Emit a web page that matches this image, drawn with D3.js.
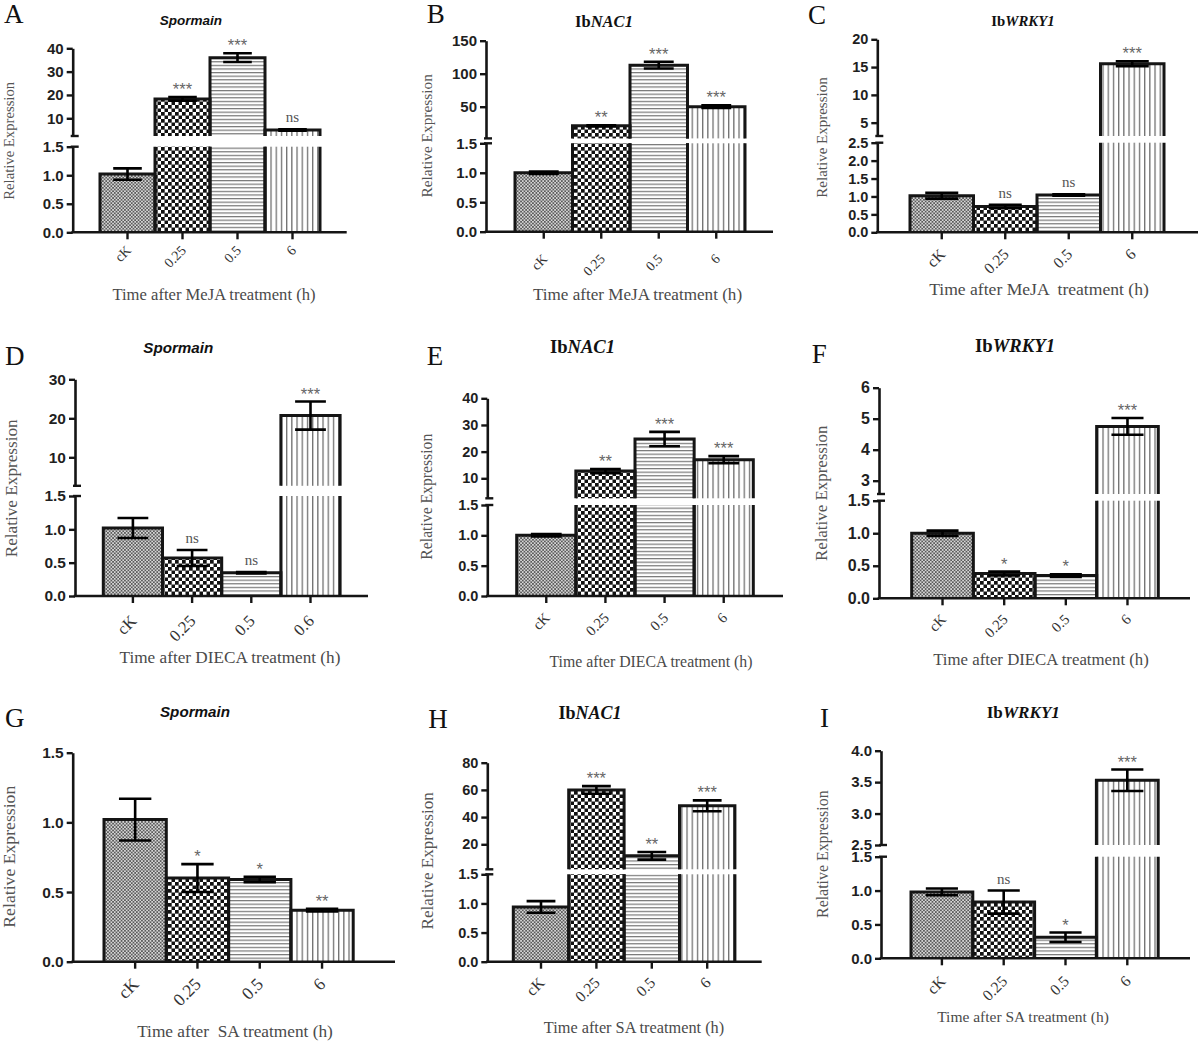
<!DOCTYPE html>
<html><head><meta charset="utf-8">
<script src="https://cdn.jsdelivr.net/npm/d3@7"></script>
<style>body{margin:0;background:#fff}svg{display:block}</style>
</head><body>
<script>
// ---------------- DATA ----------------
const categories = ["cK", "0.25", "0.5", "6"];
const categoriesD = ["cK", "0.25", "0.5", "0.6"];
const panelLetters = ["A","B","C","D","E","F","G","H","I"];
const genes = ["Spormain", "IbNAC1", "IbWRKY1"];
const xTitles = [
  "Time after MeJA treatment (h)", "Time after MeJA treatment (h)", "Time after MeJA  treatment (h)",
  "Time after DIECA treatment (h)", "Time after DIECA treatment (h)", "Time after DIECA treatment (h)",
  "Time after  SA treatment (h)", "Time after SA treatment (h)", "Time after SA treatment (h)"
];
const yTitle = "Relative Expression";

// A  Spormain / MeJA
const valuesA = [1.02, 18.3, 36.0, 5.0];
const errorsA = [0.10, 0.8, 1.9, 0.3];
const sigA = ["", "***", "***", "ns"];
const lowTicksA = [0, 0.5, 1.0, 1.5];
const highTicksA = [10, 20, 30, 40];
const breakA = 2.4;
// B  IbNAC1 / MeJA
const valuesB = [1.0, 21, 113, 50];
const errorsB = [0.02, 1, 5, 2];
const sigB = ["", "**", "***", "***"];
const lowTicksB = [0, 0.5, 1.0, 1.5];
const highTicksB = [50, 100, 150];
const breakB = 2;
// C  IbWRKY1 / MeJA
const valuesC = [1.02, 0.72, 1.04, 15.6];
const errorsC = [0.08, 0.05, 0.02, 0.45];
const sigC = ["", "ns", "ns", "***"];
const lowTicksC = [0, 0.5, 1.0, 1.5, 2.0, 2.5];
const highTicksC = [5, 10, 15, 20];
const breakC = 2.6;
// D  Spormain / DIECA
const valuesD = [1.02, 0.57, 0.35, 20.7];
const errorsD = [0.15, 0.12, 0.01, 3.6];
const sigD = ["", "ns", "ns", "***"];
const lowTicksD = [0, 0.5, 1.0, 1.5];
const highTicksD = [10, 20, 30];
const breakD = 2.7;
// E  IbNAC1 / DIECA
const valuesE = [1.0, 12.7, 24.7, 17.0];
const errorsE = [0.02, 0.8, 2.7, 1.3];
const sigE = ["", "**", "***", "***"];
const lowTicksE = [0, 0.5, 1.0, 1.5];
const highTicksE = [10, 20, 30, 40];
const breakE = 2.5;
// F  IbWRKY1 / DIECA
const valuesF = [1.0, 0.38, 0.35, 4.75];
const errorsF = [0.04, 0.03, 0.02, 0.27];
const sigF = ["", "*", "*", "***"];
const lowTicksF = [0, 0.5, 1.0, 1.5];
const highTicksF = [3, 4, 5, 6];
const breakF = 2.57;
// G  Spormain / SA (no break)
const valuesG = [1.02, 0.60, 0.59, 0.37];
const errorsG = [0.15, 0.10, 0.02, 0.01];
const sigG = ["", "*", "*", "**"];
const lowTicksG = [0, 0.5, 1.0, 1.5];
// H  IbNAC1 / SA
const valuesH = [0.94, 60, 11.5, 48.3];
const errorsH = [0.10, 2.8, 2.8, 4];
const sigH = ["", "***", "**", "***"];
const lowTicksH = [0, 0.5, 1.0, 1.5];
const highTicksH = [20, 40, 60, 80];
const breakH = 1.6;
// I  IbWRKY1 / SA
const valuesI = [0.98, 0.83, 0.31, 3.53];
const errorsI = [0.05, 0.17, 0.07, 0.17];
const sigI = ["", "ns", "*", "***"];
const lowTicksI = [0, 0.5, 1.0, 1.5];
const highTicksI = [2.5, 3.0, 3.5, 4.0];
const breakI = 2.5;

// ---------------- LAYOUT (positions / sizes) ----------------
const layouts = [
 {ax:72.7, xEnd:346.7, b0:100, bw:55, y0:232.3, lowTop:146.7, hiBot:136, hiTop:48.3, letter:[4,23.3], title:[191,25,13.5], xt:[214,300,16.6], yt:[9.5,140.8,14.7], xlDy:19, xlSize:14, tk:15, hiFmt:"d"},
 {ax:486, xEnd:773, b0:515, bw:57.5, y0:231.7, lowTop:143.3, hiBot:138.4, hiTop:40.7, letter:[426.7,23.3], title:[604,26.7,16.5], xt:[637.5,300,17.1], yt:[427.5,135.8,15.4], xlDy:28, xlSize:13.7, tk:15, hiFmt:"d"},
 {ax:877.3, xEnd:1198, b0:910, bw:63.5, y0:232.3, lowTop:142.7, hiBot:136, hiTop:39.3, letter:[808,24], title:[1023,26,14.8], xt:[1039,295,17.6], yt:[822.5,137.5,15], xlDy:23, xlSize:15.7, tk:14.5, hiFmt:"d"},
 {ax:75, xEnd:368, b0:103.3, bw:59.2, y0:596, lowTop:496, hiBot:485.8, hiTop:379.3, letter:[5,365], title:[178.3,352.7,15.2], xt:[230,663.3,17.2], yt:[11.5,488.3,17.2], xlDy:26, xlSize:16.6, tk:15.5, hiFmt:"d"},
 {ax:487.3, xEnd:783, b0:516.7, bw:59.15, y0:596, lowTop:505, hiBot:498.3, hiTop:398.3, letter:[426.7,365], title:[582.5,353.3,18.6], xt:[651,666.7,15.8], yt:[427.5,496.7,15.7], xlDy:22.7, xlSize:14.7, tk:14.5, hiFmt:"d"},
 {ax:879, xEnd:1190, b0:911.7, bw:61.65, y0:598.3, lowTop:500.7, hiBot:494, hiTop:387.7, letter:[811.7,363.3], title:[1015,352.3,18.7], xt:[1041,665,16.8], yt:[821.5,493.3,16.9], xlDy:22, xlSize:14.7, tk:16, hiFmt:"d"},
 {ax:72.7, xEnd:395, b0:104, bw:62.3, y0:961.7, lowTop:752.7, letter:[5,726.7], title:[195,716.7,15.2], xt:[235,1036.7,17.3], yt:[10,856.7,17.7], xlDy:23.6, xlSize:17.6, tk:15.5},
 {ax:487.3, xEnd:761.7, b0:513.3, bw:55.4, y0:961.7, lowTop:874.3, hiBot:869.3, hiTop:762.7, letter:[428.3,728.3], title:[590,719.3,18], xt:[634,1033.3,16.3], yt:[428.3,860.8,17.1], xlDy:22, xlSize:15.7, tk:14.5, hiFmt:"d"},
 {ax:881, xEnd:1190, b0:911, bw:61.8, y0:958.3, lowTop:856.7, hiBot:845, hiTop:750.7, letter:[820,727.3], title:[1023.3,717.7,17.1], xt:[1023,1021.7,15.5], yt:[823.3,854.2,15.9], xlDy:24, xlSize:15.7, tk:15, hiFmt:".1f"}
];

const panels = [
 {cats:categories,  vals:valuesA, errs:errorsA, sig:sigA, low:lowTicksA, high:highTicksA, brk:breakA, gene:genes[0]},
 {cats:categories,  vals:valuesB, errs:errorsB, sig:sigB, low:lowTicksB, high:highTicksB, brk:breakB, gene:genes[1]},
 {cats:categories,  vals:valuesC, errs:errorsC, sig:sigC, low:lowTicksC, high:highTicksC, brk:breakC, gene:genes[2]},
 {cats:categoriesD, vals:valuesD, errs:errorsD, sig:sigD, low:lowTicksD, high:highTicksD, brk:breakD, gene:genes[0]},
 {cats:categories,  vals:valuesE, errs:errorsE, sig:sigE, low:lowTicksE, high:highTicksE, brk:breakE, gene:genes[1]},
 {cats:categories,  vals:valuesF, errs:errorsF, sig:sigF, low:lowTicksF, high:highTicksF, brk:breakF, gene:genes[2]},
 {cats:categories,  vals:valuesG, errs:errorsG, sig:sigG, low:lowTicksG, high:null, brk:null, gene:genes[0]},
 {cats:categories,  vals:valuesH, errs:errorsH, sig:sigH, low:lowTicksH, high:highTicksH, brk:breakH, gene:genes[1]},
 {cats:categories,  vals:valuesI, errs:errorsI, sig:sigI, low:lowTicksI, high:highTicksI, brk:breakI, gene:genes[2]}
];

// ---------------- DRAW ----------------
const W = 1200, H = 1045;
const svg = d3.select("body").append("svg").attr("width", W).attr("height", H);
svg.append("rect").attr("width", W).attr("height", H).attr("fill", "#fff");

const SERIF = "'Liberation Serif','Times New Roman',serif";
const SANS = "'Liberation Sans',Arial,sans-serif";
const INK = "#151515";

const defs = svg.append("defs");
function pat(id, w, h, bg, shapes) {
  const p = defs.append("pattern").attr("id", id).attr("patternUnits", "userSpaceOnUse")
    .attr("width", w).attr("height", h);
  p.append("rect").attr("width", w).attr("height", h).attr("fill", bg);
  shapes.forEach(s => p.append("rect").attr("x", s[0]).attr("y", s[1]).attr("width", s[2]).attr("height", s[3]).attr("fill", s[4]));
}
pat("pCK", 3.4, 3.4, "#d6d6d6", [[0,0,1.7,1.7,"#5a5a5a"],[1.7,1.7,1.7,1.7,"#5a5a5a"]]);
pat("p025", 7, 7, "#fff", [[0,0,3.7,3.7,"#111"],[3.5,3.5,3.7,3.7,"#111"]]);
pat("p05", 3.6, 3.6, "#fff", [[0,0,3.6,1.2,"#777"]]);
pat("p6", 5.2, 5.2, "#fff", [[0,0,1.3,5.2,"#6f6f6f"]]);
const patternIds = ["pCK", "p025", "p05", "p6"];

function styleAxis(sel, size) {
  sel.select(".domain").attr("stroke", INK).attr("stroke-width", 2.6);
  sel.selectAll(".tick line").attr("stroke", INK).attr("stroke-width", 2.4);
  sel.selectAll(".tick text").attr("font-family", SANS).attr("font-weight", "bold")
    .attr("font-size", size).attr("fill", "#1f1f1f");
}

panels.forEach((p, k) => {
  const L = layouts[k];
  const g = svg.append("g");
  const x = d3.scaleBand().domain(p.cats).range([L.b0, L.b0 + p.cats.length * L.bw]).padding(0);
  const bw = x.bandwidth();
  const lowMax = p.low[p.low.length - 1];
  const yLow = d3.scaleLinear().domain([0, lowMax]).range([L.y0, L.lowTop]);
  const yHigh = p.high ? d3.scaleLinear().domain([p.brk, p.high[p.high.length - 1]]).range([L.hiBot, L.hiTop]) : null;
  const inHigh = v => yHigh && v > lowMax;
  const ys = v => inHigh(v) ? yHigh(v) : yLow(v);

  const data = p.cats.map((c, i) => ({c, i, v: p.vals[i], e: p.errs[i], s: p.sig[i]}));

  // bars - lower segment
  g.selectAll(".barLow").data(data).join("rect")
    .attr("x", d => x(d.c)).attr("width", bw)
    .attr("y", d => inHigh(d.v) ? L.lowTop : yLow(d.v))
    .attr("height", d => L.y0 - (inHigh(d.v) ? L.lowTop : yLow(d.v)))
    .attr("fill", d => `url(#${patternIds[d.i]})`);
  g.selectAll(".outLow").data(data).join("path")
    .attr("d", d => {
      const x0 = x(d.c), x1 = x0 + bw;
      if (inHigh(d.v)) return `M${x0},${L.y0}V${L.lowTop}M${x1},${L.lowTop}V${L.y0}`;
      return `M${x0},${L.y0}V${yLow(d.v)}H${x1}V${L.y0}`;
    })
    .attr("fill", "none").attr("stroke", INK).attr("stroke-width", 3);
  // bars - upper segment
  const hiData = data.filter(d => inHigh(d.v));
  g.selectAll(".barHigh").data(hiData).join("rect")
    .attr("x", d => x(d.c)).attr("width", bw)
    .attr("y", d => yHigh(d.v)).attr("height", d => L.hiBot - yHigh(d.v))
    .attr("fill", d => `url(#${patternIds[d.i]})`);
  g.selectAll(".outHigh").data(hiData).join("path")
    .attr("d", d => {
      const x0 = x(d.c), x1 = x0 + bw;
      return `M${x0},${L.hiBot}V${yHigh(d.v)}H${x1}V${L.hiBot}`;
    })
    .attr("fill", "none").attr("stroke", INK).attr("stroke-width", 3);

  // error bars
  const cap = bw * 0.26;
  g.selectAll(".err").data(data).join("path")
    .attr("d", d => {
      const cx = x(d.c) + bw / 2;
      const yt = ys(d.v + d.e), yb = ys(d.v - d.e);
      return `M${cx},${yt}V${yb}M${cx - cap},${yt}H${cx + cap}M${cx - cap},${yb}H${cx + cap}`;
    })
    .attr("fill", "none").attr("stroke", "#000").attr("stroke-width", 2.6);

  // significance labels
  g.selectAll(".sig").data(data.filter(d => d.s)).join("text")
    .attr("x", d => x(d.c) + bw / 2)
    .attr("y", d => ys(d.v + d.e) - (d.s === "ns" ? 7 : 2))
    .attr("text-anchor", "middle")
    .attr("font-family", d => d.s === "ns" ? SERIF : SANS)
    .attr("font-size", d => d.s === "ns" ? 15 : 16.5)
    .attr("fill", d => d.s === "ns" ? "#555" : "#666")
    .text(d => d.s);

  // y axes
  const aLow = g.append("g").attr("transform", `translate(${L.ax},0)`)
    .call(d3.axisLeft(yLow).tickValues(p.low).tickFormat(d3.format(".1f")).tickSize(6).tickSizeOuter(0).tickPadding(3));
  styleAxis(aLow, L.tk);
  if (yHigh) {
    const aHigh = g.append("g").attr("transform", `translate(${L.ax},0)`)
      .call(d3.axisLeft(yHigh).tickValues(p.high).tickFormat(d3.format(L.hiFmt)).tickSize(6).tickSizeOuter(0).tickPadding(3));
    styleAxis(aHigh, L.tk);
    // break marks
    [L.lowTop, L.hiBot].forEach(yy => g.append("line")
      .attr("x1", L.ax - 2).attr("x2", L.ax + 6).attr("y1", yy).attr("y2", yy)
      .attr("stroke", INK).attr("stroke-width", 2.4));
  }

  // x axis
  const aX = g.append("g").attr("transform", `translate(0,${L.y0})`)
    .call(d3.axisBottom(x).tickSize(7).tickFormat(""));
  aX.select(".domain").remove();
  aX.selectAll(".tick line").attr("stroke", INK).attr("stroke-width", 2.4);
  g.append("line").attr("x1", L.ax - 1.3).attr("x2", L.xEnd).attr("y1", L.y0).attr("y2", L.y0)
    .attr("stroke", INK).attr("stroke-width", 2.6);
  g.selectAll(".xl").data(p.cats).join("text")
    .attr("transform", d => `translate(${x(d) + bw / 2 + 4.5},${L.y0 + L.xlDy}) rotate(-45)`)
    .attr("text-anchor", "end").attr("font-family", SERIF).attr("font-size", L.xlSize)
    .attr("fill", "#333").text(d => d);

  // axis titles
  g.append("text").attr("x", L.xt[0]).attr("y", L.xt[1]).attr("text-anchor", "middle")
    .attr("font-family", SERIF).attr("font-size", L.xt[2]).attr("fill", "#4a4a4a")
    .style("white-space", "pre").text(xTitles[k]);
  g.append("text").attr("transform", `translate(${L.yt[0]},${L.yt[1]}) rotate(-90)`)
    .attr("text-anchor", "middle").attr("dy", "0.3em")
    .attr("font-family", SERIF).attr("font-size", L.yt[2]).attr("fill", "#555").text(yTitle);

  // panel letter
  g.append("text").attr("x", L.letter[0]).attr("y", L.letter[1])
    .attr("font-family", SERIF).attr("font-size", 27).attr("fill", "#111").text(panelLetters[k]);

  // gene title
  const t = g.append("text").attr("x", L.title[0]).attr("y", L.title[1]).attr("text-anchor", "middle")
    .attr("font-size", L.title[2]).attr("font-weight", "bold").attr("fill", "#111");
  if (p.gene.startsWith("Ib")) {
    t.attr("font-family", SERIF);
    t.append("tspan").text("Ib");
    t.append("tspan").attr("font-style", "italic").text(p.gene.slice(2));
  } else {
    t.attr("font-family", SANS).attr("font-style", "italic").text(p.gene);
  }
});
</script>
</body></html>
